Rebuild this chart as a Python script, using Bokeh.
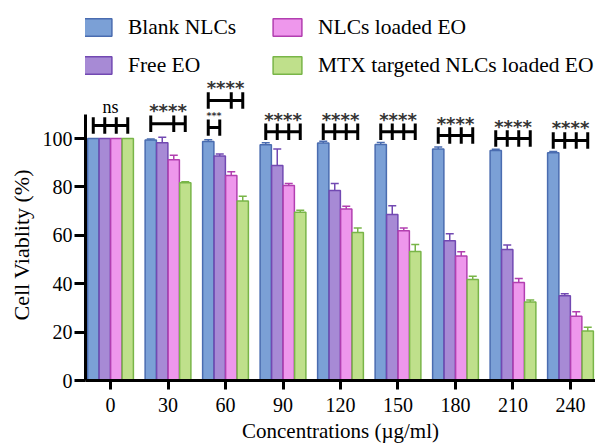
from bokeh.plotting import figure
from bokeh.models import (Range1d, FixedTicker, Legend, LegendItem, Whisker,
                          ColumnDataSource, TeeHead, Title)
from bokeh.core.properties import value
from bokeh.embed import file_html
from bokeh.resources import INLINE

# ---------------- data ----------------
concentrations = ["0", "30", "60", "90", "120", "150", "180", "210", "240"]
series_names = ["Blank NLCs", "Free EO", "NLCs loaded EO", "MTX targeted NLCs loaded EO"]
x_title = "Concentrations (µg/ml)"
y_title = "Cell Viablity (%)"

blank_nlcs = [100, 99.4, 98.8, 97.4, 98.1, 97.5, 95.7, 95.0, 94.1]
blank_err = [0, 0.4, 0.7, 0.8, 0.8, 0.8, 0.8, 0.6, 0.5]
free_eo = [100, 98.2, 92.8, 88.8, 78.5, 68.6, 57.7, 54.1, 35.0]
free_err = [0, 2.3, 0.8, 6.9, 2.9, 3.6, 2.9, 1.9, 0.8]
nlcs_eo = [100, 91.2, 84.7, 80.6, 70.9, 61.9, 51.4, 40.5, 26.6]
nlcs_err = [0, 1.9, 1.6, 0.8, 1.1, 1.1, 1.8, 1.6, 1.8]
mtx_eo = [100, 81.7, 74.2, 69.5, 61.2, 53.3, 41.7, 32.4, 20.5]
mtx_err = [0, 0.4, 1.9, 0.8, 1.8, 2.9, 1.4, 0.9, 1.5]

y_ticks = [0, 20, 40, 60, 80, 100]

# significance annotations
sig_group = [0, 1, 2, 2, 3, 4, 5, 6, 7, 8]
sig_bars = [[0, 1, 2, 3], [0, 2, 3], [0, 1], [0, 2, 3], [0, 1, 2, 3],
            [0, 1, 2, 3], [0, 1, 2, 3], [0, 1, 2, 3], [0, 1, 2, 3], [0, 1, 2, 3]]
sig_level = [105.4, 106.1, 104.5, 115.7, 102.8, 102.8, 102.8, 101.2, 100.0, 99.2]
sig_text = ["ns", "****", "***", "****", "****", "****", "****", "****", "****", "****"]
sig_text_y = [113.2, 111.5, 109.6, 121.0, 107.8, 107.8, 107.8, 106.0, 105.0, 104.4]

# ---------------- style / layout ----------------
fills = ["#7BA0D6", "#A78AD5", "#EE97EC", "#BFE08B"]
lines = ["#4A6CB0", "#7249B2", "#B23FB0", "#79B548"]
serif = "Liberation Serif"

values_all = [blank_nlcs, free_eo, nlcs_eo, mtx_eo]
errs_all = [blank_err, free_err, nlcs_err, mtx_err]
bar_w = 0.2
offsets = [(j - 1.5) * bar_w for j in range(4)]

W, H = 595, 447
left_border, bottom_border = 85, 67
frame_h = H - bottom_border
px_per_unit = 2.42

p = figure(width=W, height=H, output_backend="svg", toolbar_location=None,
           x_range=Range1d(-0.435, 8.435), y_range=Range1d(0, frame_h / px_per_unit),
           min_border_left=left_border, min_border_right=0, min_border_top=0,
           min_border_bottom=bottom_border)
p.outline_line_color = None
p.grid.visible = False
p.background_fill_color = "white"

legend_items = []
for j in range(4):
    xs = [i + offsets[j] for i in range(len(concentrations))]
    src = ColumnDataSource(dict(x=xs, top=values_all[j]))
    r = p.vbar(x="x", top="top", bottom=0, width=bar_w * 0.98, source=src,
               fill_color=fills[j], line_color=lines[j], line_width=1.5)
    legend_items.append(LegendItem(label=series_names[j], renderers=[r]))
    ex = [x for x, e in zip(xs, errs_all[j]) if e > 0]
    elo = [v for v, e in zip(values_all[j], errs_all[j]) if e > 0]
    ehi = [v + e for v, e in zip(values_all[j], errs_all[j]) if e > 0]
    esrc = ColumnDataSource(dict(base=ex, lower=elo, upper=ehi))
    wk = Whisker(base="base", lower="lower", upper="upper", source=esrc,
                 line_color=lines[j], line_width=1.5, lower_head=None,
                 upper_head=TeeHead(size=8, line_color=lines[j], line_width=1.5))
    p.add_layout(wk)

# significance brackets
hx0, hx1, hy = [], [], []
vx, vy0, vy1 = [], [], []
tx, ty, tt = [], [], []
for g, bars, lev, txt, tyv in zip(sig_group, sig_bars, sig_level, sig_text, sig_text_y):
    xs = [g + offsets[b] for b in bars]
    hx0.append(min(xs)); hx1.append(max(xs)); hy.append(lev)
    for x in xs:
        vx.append(x); vy0.append(lev - 3.4); vy1.append(lev + 3.4)
    tx.append((min(xs) + max(xs)) / 2)
    ty.append(tyv)
    tt.append(txt)
p.segment(x0=hx0, y0=hy, x1=hx1, y1=hy, line_color="black", line_width=3)
p.segment(x0=vx, y0=vy0, x1=vx, y1=vy1, line_color="black", line_width=3)

stars_idx = [k for k, t in enumerate(tt) if t == "****"]
p.text(x=[tx[k] for k in stars_idx], y=[ty[k] for k in stars_idx],
       text=[tt[k] for k in stars_idx], text_font=value("DejaVu Sans"),
       text_font_size="18px", text_font_style="bold", text_align="center",
       text_baseline="middle", text_color="#333333")
small_idx = [k for k, t in enumerate(tt) if t == "***"]
p.text(x=[tx[k] for k in small_idx], y=[ty[k] for k in small_idx],
       text=[tt[k] for k in small_idx], text_font=value("DejaVu Sans"),
       text_font_size="9.5px", text_font_style="bold", text_align="center",
       text_baseline="middle", text_color="#333333")
ns_idx = [k for k, t in enumerate(tt) if t == "ns"]
p.text(x=[tx[k] for k in ns_idx], y=[ty[k] for k in ns_idx],
       text=[tt[k] for k in ns_idx], text_font=value(serif),
       text_font_size="18px", text_align="center", text_baseline="middle",
       text_color="black")

# axes
xa = p.xaxis[0]
xa.ticker = FixedTicker(ticks=list(range(len(concentrations))))
xa.major_label_overrides = {i: c for i, c in enumerate(concentrations)}
xa.axis_label = x_title
ya = p.yaxis[0]
ya.ticker = FixedTicker(ticks=y_ticks)
ya.bounds = (0, 110)
for ax in (xa, ya):
    ax.axis_line_width = 3
    ax.axis_line_color = "black"
    ax.major_tick_line_width = 3
    ax.major_tick_line_color = "black"
    ax.major_tick_in = 0
    ax.minor_tick_line_color = None
    ax.major_label_text_font = serif
    ax.major_label_text_font_size = "20px"
    ax.major_label_text_color = "black"
xa.major_tick_out = 9
xa.major_label_standoff = 8
xa.axis_label_text_font = serif
xa.axis_label_text_font_style = "normal"
xa.axis_label_text_font_size = "21px"
xa.axis_label_text_color = "black"
xa.axis_label_standoff = 4
ya.major_tick_out = 11
ya.major_label_standoff = 2

# y axis title: a side-panel title, shifted along the axis like the reference
p.add_layout(Title(text=y_title, align="left", offset=60, standoff=11,
                   text_font=serif, text_font_size="22px", text_font_style="normal",
                   text_color="black"), "left")

# legends (two columns as two legends)
for items, xoff in [(legend_items[:2], -6), (legend_items[2:], 184)]:
    lg = Legend(items=items, location=(xoff, 302), orientation="vertical",
                glyph_width=36, glyph_height=22, label_height=26, spacing=12,
                label_standoff=13, padding=0, margin=0,
                label_text_font=serif, label_text_font_size="21.5px",
                label_text_color="black", border_line_color=None,
                background_fill_alpha=0)
    p.add_layout(lg, "center")

open("out.html", "w").write(file_html(p, INLINE))
